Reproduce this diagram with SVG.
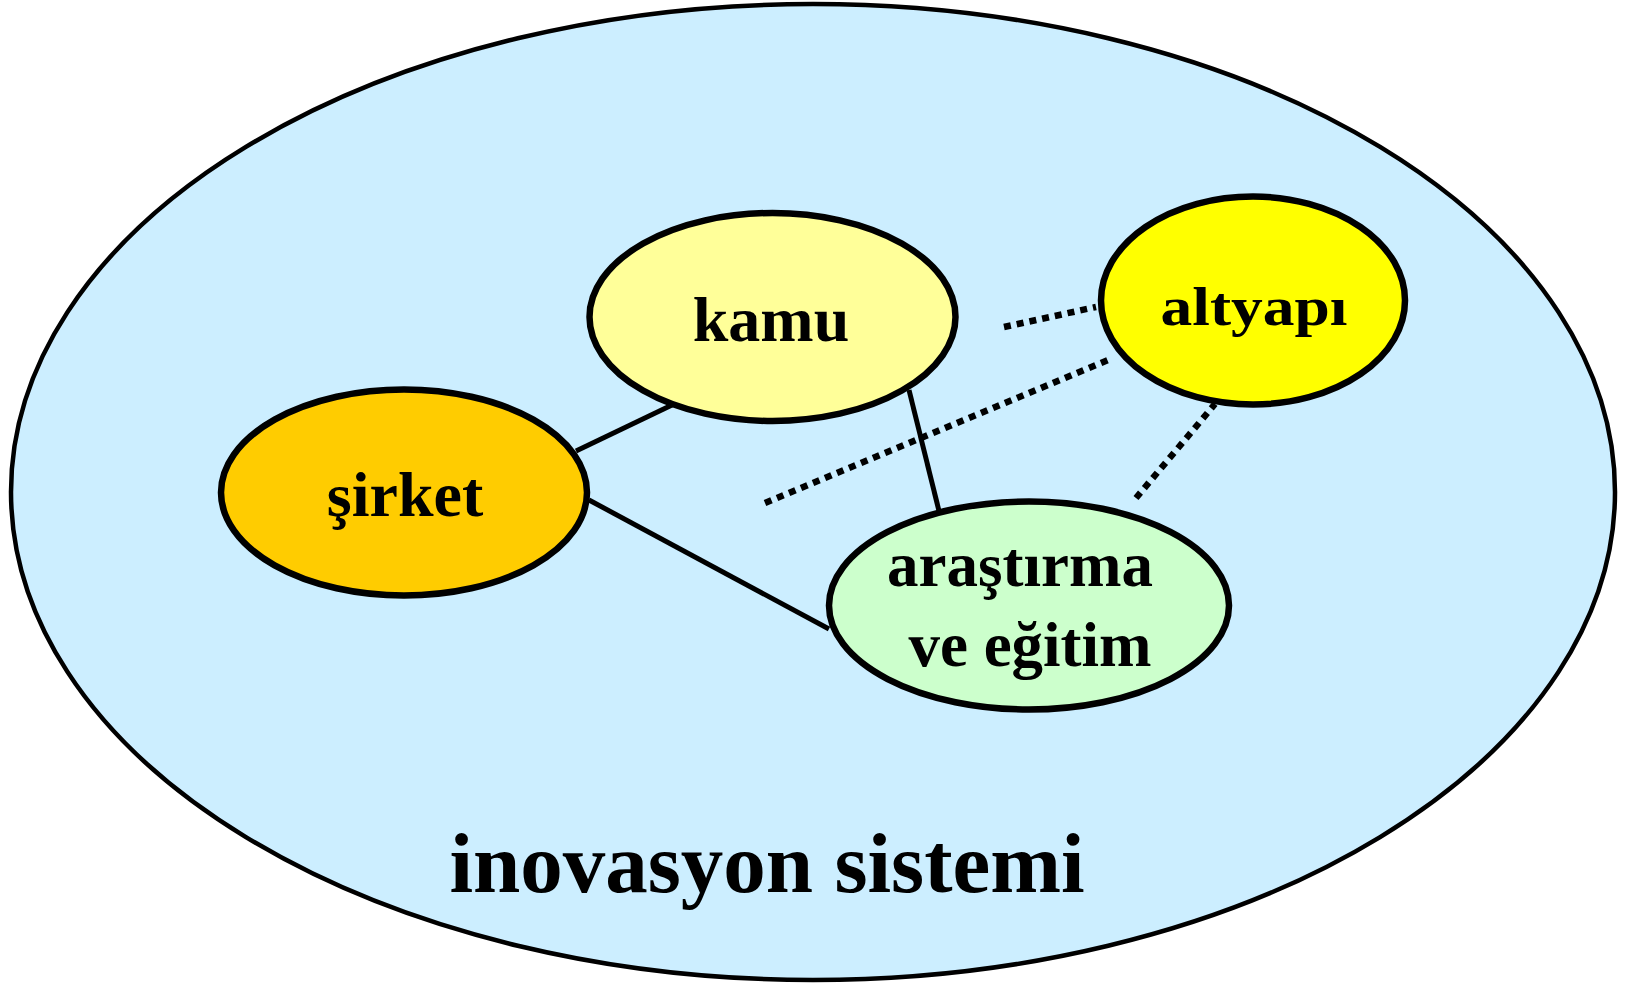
<svg xmlns="http://www.w3.org/2000/svg" width="1627" height="986" viewBox="0 0 1627 986">
<style>
.node{stroke:#000;stroke-width:6.5}
.lbl{font-family:"Liberation Serif","Times New Roman",serif;font-weight:bold;fill:#000;text-anchor:middle}
.solid{stroke:#000;stroke-width:5;fill:none}
.dot{stroke:#000;stroke-width:6.5;fill:none;stroke-dasharray:7 6}
</style>
<rect width="1627" height="986" fill="#fff"/>
<g id="system">
<ellipse cx="813" cy="492" rx="802" ry="488" fill="#cceeff" stroke="#000" stroke-width="4.5"/>
<text class="lbl" x="767" y="892" font-size="85">inovasyon sistemi</text>
</g>
<g id="connectors">
<line class="solid" x1="576" y1="451" x2="672" y2="405"/>
<line class="solid" x1="589" y1="500" x2="829" y2="629"/>
<line class="solid" x1="909" y1="390" x2="940" y2="515"/>
<line class="dot" x1="1004" y1="327" x2="1096" y2="307"/>
<line class="dot" x1="765" y1="503" x2="1113" y2="358"/>
<line class="dot" x1="1136" y1="498" x2="1215" y2="404"/>
</g>
<g id="kamu">
<ellipse class="node" cx="772.5" cy="317" rx="183" ry="104" fill="#ffff99"/>
<text class="lbl" x="771" y="341" font-size="64">kamu</text>
</g>
<g id="altyapi">
<ellipse class="node" cx="1253" cy="300.5" rx="152" ry="104" fill="#ffff00"/>
<text class="lbl" x="1254" y="325" font-size="54" textLength="187" lengthAdjust="spacingAndGlyphs">altyapı</text>
</g>
<g id="sirket">
<ellipse class="node" cx="404" cy="492.5" rx="183" ry="103" fill="#ffcc00"/>
<text class="lbl" x="405" y="516" font-size="64">şirket</text>
</g>
<g id="arastirma">
<ellipse class="node" cx="1029" cy="605.5" rx="200" ry="104" fill="#ccffcc"/>
<text class="lbl" x="1020" y="586" font-size="63">araştırma</text>
<text class="lbl" x="1030" y="666" font-size="63">ve eğitim</text>
</g>
</svg>
